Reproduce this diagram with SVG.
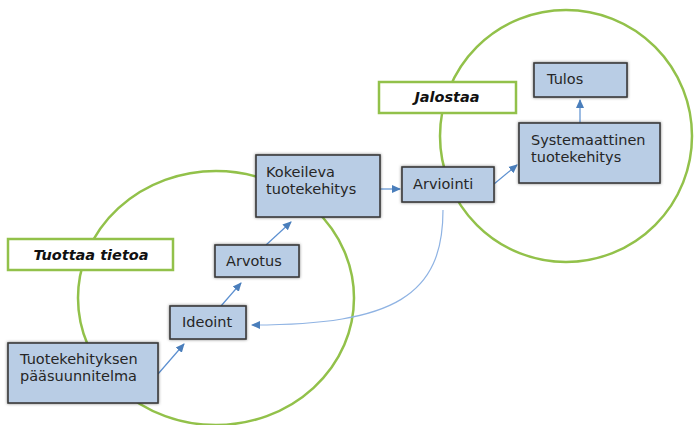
<svg xmlns="http://www.w3.org/2000/svg" width="699" height="425" viewBox="0 0 699 425">
<defs>
<style>
.ring{fill:none;stroke:#92c14a;stroke-width:2.5}
.box{fill:#b9cde5;stroke:#3a3a3a;stroke-width:1.6;filter:url(#sh)}
.lbl{fill:#fff;stroke:#92c14a;stroke-width:2.5}
.t{font-family:"DejaVu Sans",Verdana,sans-serif;font-size:14.5px;fill:#262626}
.ti{font-family:"DejaVu Sans",Verdana,sans-serif;font-size:14.5px;font-weight:bold;font-style:italic;fill:#111;text-anchor:middle}
.c{fill:none;stroke:#5b8fd0;stroke-width:1.2;marker-end:url(#ah)}
.cl{fill:none;stroke:#8fb3e3;stroke-width:1.2;marker-end:url(#ah)}
</style>
<marker id="ah" markerWidth="10" markerHeight="10" refX="8" refY="5" orient="auto" markerUnits="userSpaceOnUse">
<path d="M0,1 L9,5 L0,9 Z" fill="#4a7ebb"/>
</marker>
<filter id="sh" x="-10%" y="-20%" width="120%" height="140%">
<feDropShadow dx="0" dy="0" stdDeviation="1.5" flood-color="#000" flood-opacity="0.5"/>
</filter>
</defs>
<rect width="699" height="425" fill="#fff"/>
<g id="rings">
<ellipse class="ring" cx="216" cy="298" rx="138" ry="127"/>
<ellipse class="ring" cx="566" cy="136" rx="126" ry="126"/>
</g>
<g id="connectors">
<path class="c" d="M158,374 L184,344"/>
<path class="c" d="M221,306 L241,283"/>
<path class="c" d="M266,245 L291,222"/>
<path class="c" d="M380,189 L400,189"/>
<path class="c" d="M494,184 L517,165"/>
<path class="c" d="M580,123 L580,100"/>
<path class="cl" d="M443,210 C443,295 395,325 252,325"/>
</g>
<g id="label-tuottaa">
<rect class="lbl" x="8" y="239" width="165" height="31"/>
<text class="ti" x="91" y="260">Tuottaa tietoa</text>
</g>
<g id="label-jalostaa">
<rect class="lbl" x="379" y="82" width="137" height="31"/>
<text class="ti" x="447" y="102">Jalostaa</text>
</g>
<g id="node-paasuunnitelma">
<rect class="box" x="8" y="343" width="150" height="60"/>
<text class="t" x="20" y="364">Tuotekehityksen</text>
<text class="t" x="20" y="381">pääsuunnitelma</text>
</g>
<g id="node-ideoint">
<rect class="box" x="170" y="306" width="76" height="33"/>
<text class="t" x="182" y="327">Ideoint</text>
</g>
<g id="node-arvotus">
<rect class="box" x="215" y="245" width="84" height="32"/>
<text class="t" x="226" y="266">Arvotus</text>
</g>
<g id="node-kokeileva">
<rect class="box" x="256" y="155" width="124" height="62"/>
<text class="t" x="266" y="177">Kokeileva</text>
<text class="t" x="266" y="194">tuotekehitys</text>
</g>
<g id="node-arviointi">
<rect class="box" x="402" y="167" width="92" height="35"/>
<text class="t" x="413" y="189">Arviointi</text>
</g>
<g id="node-systemaattinen">
<rect class="box" x="519" y="123" width="141" height="60"/>
<text class="t" x="531" y="145">Systemaattinen</text>
<text class="t" x="531" y="162">tuotekehitys</text>
</g>
<g id="node-tulos">
<rect class="box" x="534" y="63" width="93" height="34"/>
<text class="t" x="547" y="84">Tulos</text>
</g>
</svg>
